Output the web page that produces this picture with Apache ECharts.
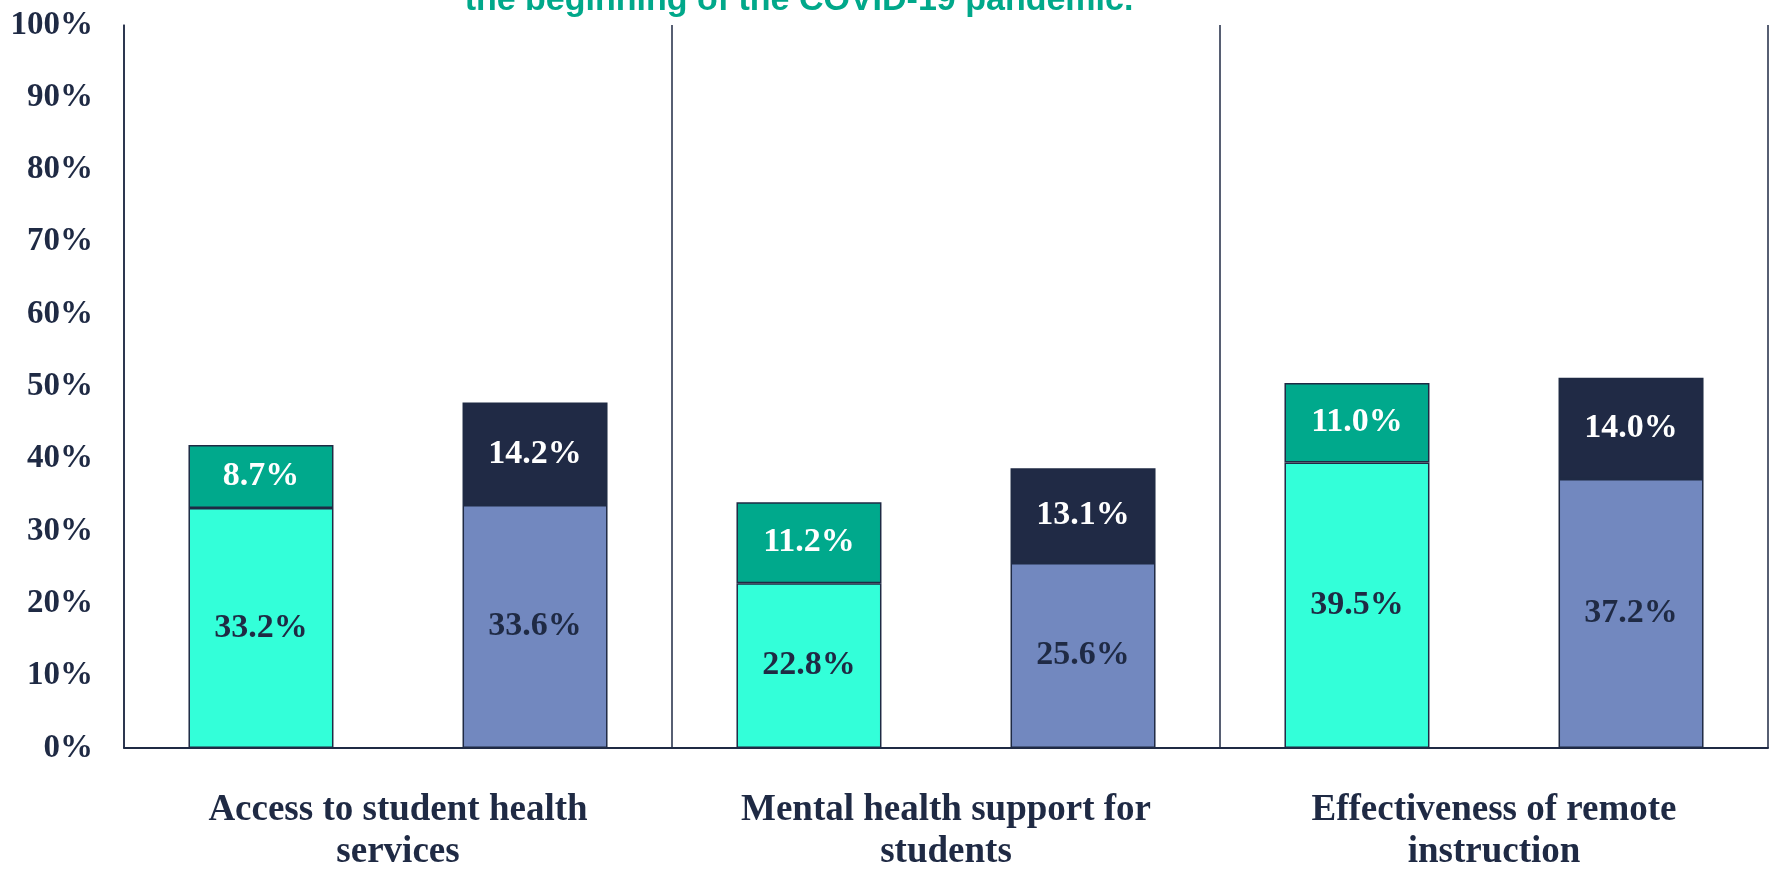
<!DOCTYPE html>
<html>
<head>
<meta charset="utf-8">
<script src="https://cdn.jsdelivr.net/npm/echarts@6/dist/echarts.min.js"></script>
<style>
html,body{margin:0;padding:0;background:#fff;}
#chart{width:1771px;height:873px;}
</style>
</head>
<body>
<div id="chart"></div>
<script>
const categories = ['Access to student health\nservices', 'Mental health support for\nstudents', 'Effectiveness of remote\ninstruction'];
const groupABase = [33.2, 22.8, 39.5];
const groupATop = [8.7, 11.2, 11.0];
const groupBBase = [33.6, 25.6, 37.2];
const groupBTop = [14.2, 13.1, 14.0];
const yTicks = [0, 10, 20, 30, 40, 50, 60, 70, 80, 90, 100];
const titleText = 'the beginning of the COVID-19 pandemic.';

const NAVY = '#1F2A44';
const serif = '"Liberation Serif", "DejaVu Serif", serif';

const chart = echarts.init(document.getElementById('chart'));

function seg(name, stack, data, color, labelColor) {
  return {
    name: name,
    type: 'bar',
    stack: stack,
    data: data,
    barWidth: 145,
    barGap: '89%',
    itemStyle: { color: color, borderColor: NAVY, borderWidth: 1.5 },
    label: {
      show: true,
      position: 'inside',
      formatter: p => p.value.toFixed(1) + '%',
      color: labelColor,
      fontFamily: serif,
      fontWeight: 'bold',
      fontSize: 34
    }
  };
}

chart.setOption({
  animation: false,
  backgroundColor: '#ffffff',
  graphic: [{
    type: 'text',
    x: 799,
    y: 1,
    style: {
      text: titleText,
      fill: '#00A88A',
      font: 'bold 34px "Liberation Sans", Arial, sans-serif',
      textAlign: 'center',
      textVerticalAlign: 'middle'
    }
  }],
  grid: { left: 124, right: 3, top: 25, bottom: 124, containLabel: false },
  xAxis: {
    type: 'category',
    data: categories,
    axisLine: { show: true, lineStyle: { color: NAVY, width: 2 } },
    axisTick: { show: false },
    splitLine: { show: true, lineStyle: { color: NAVY, width: 1.5 } },
    axisLabel: {
      color: NAVY,
      fontFamily: serif,
      fontWeight: 'bold',
      fontSize: 37,
      lineHeight: 42,
      margin: 41,
      interval: 0
    }
  },
  yAxis: {
    type: 'value',
    min: 0,
    max: 100,
    interval: 10,
    axisLine: { show: true, lineStyle: { color: NAVY, width: 1.5 } },
    axisTick: { show: false },
    splitLine: { show: false },
    axisLabel: {
      color: NAVY,
      fontFamily: serif,
      fontWeight: 'bold',
      fontSize: 33,
      margin: 31,
      formatter: v => (yTicks.indexOf(v) >= 0 ? v + '%' : '')
    }
  },
  series: [
    seg('Group A base', 'a', groupABase, '#33FFD9', NAVY),
    seg('Group A top', 'a', groupATop, '#00A98C', '#FFFFFF'),
    seg('Group B base', 'b', groupBBase, '#7288BF', NAVY),
    seg('Group B top', 'b', groupBTop, '#202A45', '#FFFFFF')
  ]
});
</script>
</body>
</html>
